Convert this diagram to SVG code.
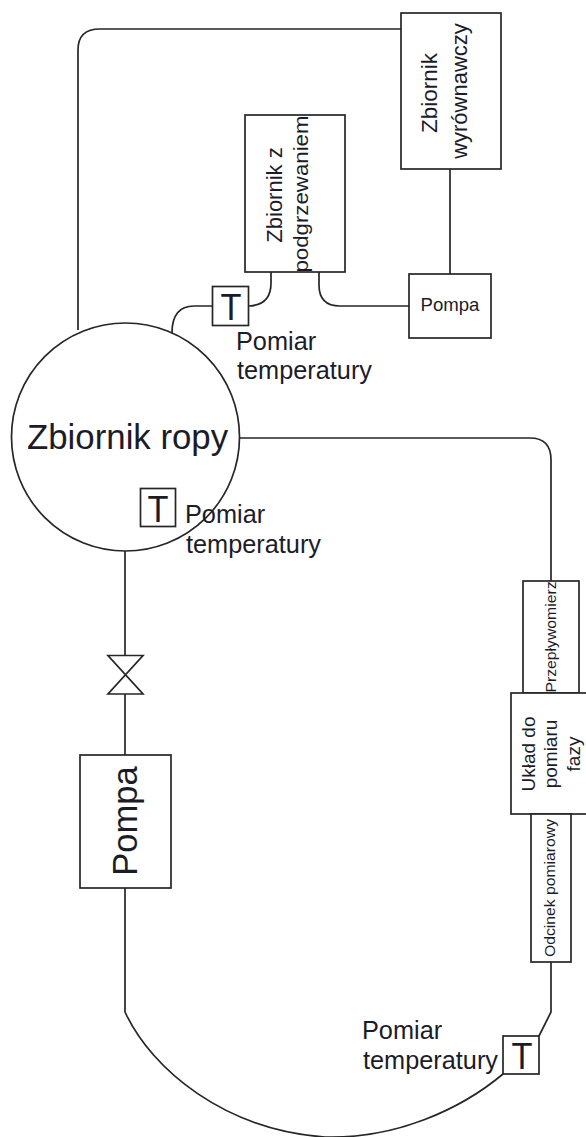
<svg xmlns="http://www.w3.org/2000/svg" width="586" height="1137" viewBox="0 0 586 1137">
<style>
.s{fill:#fff;stroke:#262626;stroke-width:1.7}
.l{fill:none;stroke:#262626;stroke-width:1.7}
text{font-family:"Liberation Sans",Arial,sans-serif;fill:#1c1c28}
.p{font-size:25.300px}
.t{font-size:37px}
</style>
<rect width="586" height="1137" fill="#fff"/>
<g id="connectors">
<path class="l" d="M78,330V50Q78,29 100,29H401"/>
<path class="l" d="M450,169V274"/>
<path class="l" d="M319,272V285Q319,306 340,306H409"/>
<path class="l" d="M271,272V283Q271,305 249,306"/>
<path class="l" d="M212,306H194Q172,306 172,333"/>
<path class="l" d="M239,438H530Q551,438 551,460V581"/>
<path class="l" d="M125,551V655"/>
<path class="l" d="M125,694V755"/>
<path class="l" d="M125,888V1012C152,1070 225,1130 325,1137C395,1139 460,1110 503,1074"/>
<path class="l" d="M551,962V1012L539,1036"/>
</g>
<g id="zbiornik-ropy">
<circle class="s" cx="125.500" cy="437" r="114"/>
<text x="27" y="449" font-size="34.800">Zbiornik ropy</text>
</g>
<g id="zbiornik-wyrownawczy">
<rect class="s" x="401" y="13" width="100" height="156"/>
<text transform="translate(437,93) rotate(-90)" text-anchor="middle" font-size="22.500">Zbiornik</text>
<text transform="translate(467,91) rotate(-90)" text-anchor="middle" font-size="22">wyrównawczy</text>
</g>
<g id="zbiornik-z-podgrzewaniem">
<rect class="s" x="245" y="115" width="100" height="157"/>
<text transform="translate(282,195) rotate(-90)" text-anchor="middle" font-size="22">Zbiornik z</text>
<text transform="translate(308,194) rotate(-90)" text-anchor="middle" font-size="21" textLength="157" lengthAdjust="spacingAndGlyphs">podgrzewaniem</text>
</g>
<g id="pompa-mala">
<rect class="s" x="409" y="274" width="82" height="64"/>
<text x="450" y="311" text-anchor="middle" font-size="18.600">Pompa</text>
</g>
<g id="t-gora">
<rect class="s" x="212.500" y="286.500" width="36" height="39"/>
<text class="t" x="231" y="320" text-anchor="middle" textLength="21" lengthAdjust="spacingAndGlyphs">T</text>
</g>
<g id="pomiar-gora">
<text class="p" x="236" y="350">Pomiar</text>
<text class="p" x="237" y="379">temperatury</text>
</g>
<g id="t-srodek">
<rect class="s" x="140.500" y="488.500" width="35" height="38"/>
<text class="t" x="158" y="522" text-anchor="middle" textLength="21" lengthAdjust="spacingAndGlyphs">T</text>
</g>
<g id="pomiar-srodek">
<text class="p" x="185" y="523">Pomiar</text>
<text class="p" x="186" y="553">temperatury</text>
</g>
<g id="zawor">
<path class="l" d="M108,655.500H143L108,694H143Z" stroke-width="1.300"/>
</g>
<g id="pompa-duza">
<rect class="s" x="80" y="755" width="91" height="133"/>
<text transform="translate(137,821) rotate(-90)" text-anchor="middle" font-size="34.500">Pompa</text>
</g>
<g id="przeplywomierz">
<rect class="s" x="523" y="581" width="56" height="112"/>
<text transform="translate(556,637) rotate(-90)" text-anchor="middle" font-size="15.500" textLength="111" lengthAdjust="spacingAndGlyphs">Przepływomierz</text>
</g>
<g id="uklad">
<rect class="s" x="511" y="693" width="80" height="121"/>
<text transform="translate(535,754) rotate(-90)" text-anchor="middle" font-size="19">Układ do</text>
<text transform="translate(557,754) rotate(-90)" text-anchor="middle" font-size="19">pomiaru</text>
<text transform="translate(580,754) rotate(-90)" text-anchor="middle" font-size="19">fazy</text>
</g>
<g id="odcinek">
<rect class="s" x="531" y="814" width="40" height="148"/>
<text transform="translate(555,888) rotate(-90)" text-anchor="middle" font-size="15" textLength="138" lengthAdjust="spacingAndGlyphs">Odcinek pomiarowy</text>
</g>
<g id="t-dol">
<rect class="s" x="503" y="1036" width="36" height="38"/>
<text class="t" x="522" y="1069" text-anchor="middle" textLength="21" lengthAdjust="spacingAndGlyphs">T</text>
</g>
<g id="pomiar-dol">
<text class="p" x="362" y="1039">Pomiar</text>
<text class="p" x="363" y="1069">temperatury</text>
</g>
</svg>
